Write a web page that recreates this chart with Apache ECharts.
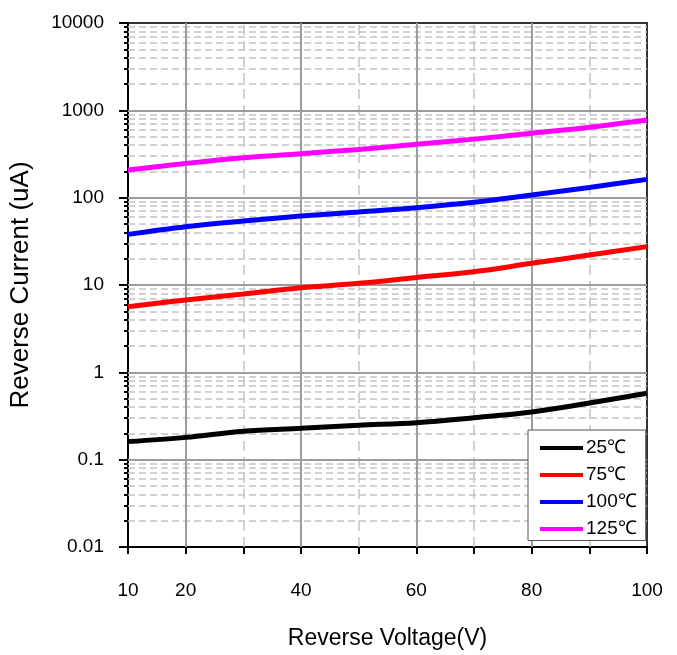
<!DOCTYPE html>
<html>
<head>
<meta charset="utf-8">
<script src="https://cdn.jsdelivr.net/npm/echarts@6/dist/echarts.min.js"></script>
<style>
html,body{margin:0;padding:0;background:#fff;}
#chart{width:677px;height:655px;}
</style>
</head>
<body>
<div id="chart"></div>
<script>
// Data
var voltage = [10, 20, 30, 40, 50, 60, 70, 80, 90, 100];
var current25 = [0.161, 0.180, 0.212, 0.229, 0.248, 0.265, 0.302, 0.352, 0.445, 0.575];
var current75 = [5.64, 6.73, 7.88, 9.31, 10.45, 12.2, 14.2, 17.7, 22.0, 27.5];
var current100 = [38.0, 46.5, 54.0, 61.6, 68.5, 76.7, 88.5, 107, 131, 162];
var current125 = [207, 247, 287, 319, 357, 408, 468, 546, 640, 775];
var seriesNames = ['25℃', '75℃', '100℃', '125℃'];
var seriesColors = ['#000000', '#ff0000', '#0000ff', '#ff00ff'];
var yMajorTicks = [0.01, 0.1, 1, 10, 100, 1000, 10000];
var xTickLabels = [10, 20, 40, 60, 80, 100];
var xMajorGrid = [20, 40, 60, 80];
var xMinorGrid = [30, 50, 70, 90];

var yMinorTicks = [];
yMajorTicks.slice(0, -1).forEach(function (d) {
  for (var k = 2; k <= 9; k++) yMinorTicks.push(+(d * k).toPrecision(3));
});

var tickFont = "'Liberation Sans Narrow', 'Arial Narrow', 'Liberation Sans', Arial, sans-serif";
var titleFont = "'Liberation Sans', Arial, sans-serif";

function pairs(xs, ys) { return xs.map(function (x, i) { return [x, ys[i]]; }); }

var allCurrents = [current25, current75, current100, current125];
var dataSeries = allCurrents.map(function (arr, i) {
  return {
    name: seriesNames[i],
    type: 'line',
    data: pairs(voltage, arr),
    smooth: 0.35,
    showSymbol: false,
    symbol: 'none',
    z: 5,
    lineStyle: { color: seriesColors[i], width: 5 },
    itemStyle: { color: seriesColors[i] }
  };
});

var gridLineSeries = {
  name: 'grid',
  type: 'line',
  data: [],
  z: 1,
  silent: true,
  markLine: {
    silent: true,
    symbol: ['none', 'none'],
    animation: false,
    label: { show: false },
    emphasis: { disabled: true },
    data: []
      .concat(yMinorTicks.map(function (v) {
        return { yAxis: v, lineStyle: { color: '#c4c4c4', width: 1.5, type: [7, 4] } };
      }))
      .concat(xMinorGrid.map(function (v) {
        return { xAxis: v, lineStyle: { color: '#c4c4c4', width: 1.5, type: [10, 6] } };
      }))
      .concat(yMajorTicks.slice(1, -1).map(function (v) {
        return { yAxis: v, lineStyle: { color: '#9c9c9c', width: 2, type: 'solid' } };
      }))
      .concat(xMajorGrid.map(function (v) {
        return { xAxis: v, lineStyle: { color: '#9c9c9c', width: 2, type: 'solid' } };
      }))
  }
};

var chart = echarts.init(document.getElementById('chart'), null, { renderer: 'canvas' });
chart.setOption({
  animation: false,
  backgroundColor: '#ffffff',
  grid: {
    left: 127, right: 30, top: 23, bottom: 108,
    show: true, borderColor: '#333', borderWidth: 2, backgroundColor: 'transparent'
  },
  legend: {
    data: seriesNames,
    orient: 'vertical',
    left: 528, top: 430,
    icon: 'rect',
    itemWidth: 43, itemHeight: 4,
    itemGap: 8,
    padding: [8.5, 9, 2, 12],
    backgroundColor: '#ffffff',
    borderColor: '#555',
    borderWidth: 1,
    borderRadius: 0,
    z: 10,
    textStyle: { fontFamily: tickFont, fontSize: 19, color: '#000', lineHeight: 19, padding: [0, 0, 0, -2] }
  },
  xAxis: {
    type: 'value',
    min: 10, max: 100, interval: 10,
    name: 'Reverse Voltage(V)',
    nameLocation: 'middle',
    nameGap: 80,
    nameTextStyle: { fontFamily: titleFont, fontSize: 23, color: '#000' },
    axisLine: { show: true, onZero: false, lineStyle: { color: '#000', width: 2 } },
    axisTick: { show: true, inside: false, length: 7, lineStyle: { color: '#000', width: 2 } },
    axisLabel: {
      margin: 34,
      fontFamily: tickFont, fontSize: 19, color: '#000',
      formatter: function (v) { return xTickLabels.indexOf(v) >= 0 ? String(v) : ''; }
    },
    splitLine: { show: false }
  },
  yAxis: [{
    type: 'log',
    min: 0.01, max: 10000,
    name: 'Reverse Current (uA)',
    nameLocation: 'middle',
    nameGap: 94,
    nameTextStyle: { fontFamily: titleFont, fontSize: 26, color: '#000' },
    axisLine: { show: true, onZero: false, lineStyle: { color: '#000', width: 2 } },
    axisTick: { show: true, inside: false, length: 9, lineStyle: { color: '#000', width: 2 }, customValues: yMajorTicks },
    axisLabel: {
      margin: 24,
      fontFamily: tickFont, fontSize: 19, color: '#000',
      customValues: yMajorTicks,
      formatter: function (v) { return String(+v.toPrecision(3)); }
    },
    splitLine: { show: false },
    minorTick: { show: false },
    minorSplitLine: { show: false }
  }, {
    type: 'log',
    min: 0.01, max: 10000,
    position: 'left',
    offset: 0,
    axisLine: { show: false },
    axisTick: { show: true, inside: false, length: 4, lineStyle: { color: '#000', width: 2 }, customValues: yMinorTicks },
    axisLabel: { show: false },
    splitLine: { show: false }
  }],
  series: [gridLineSeries].concat(dataSeries)
});
</script>
</body>
</html>
